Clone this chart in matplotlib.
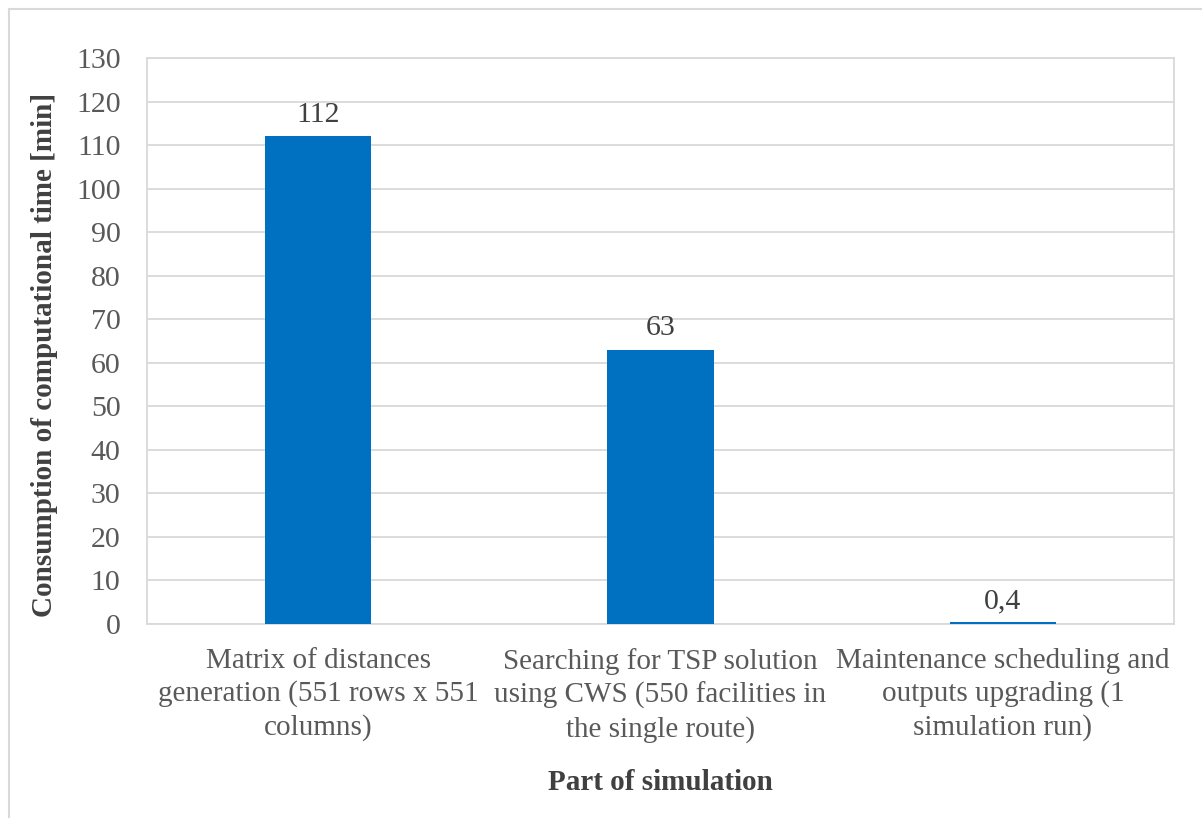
import matplotlib
matplotlib.use("Agg")
import matplotlib.pyplot as plt
from matplotlib.lines import Line2D

categories = [
    "Matrix of distances\ngeneration (551 rows x 551\ncolumns)",
    "Searching for TSP solution\nusing CWS (550 facilities in\nthe single route)",
    "Maintenance scheduling and\noutputs upgrading (1\nsimulation run)",
]
values = [112, 63, 0.4]
value_labels = ["112", "63", "0,4"]
yticks = list(range(0, 131, 10))

plt.rcParams["font.family"] = ["Liberation Serif", "DejaVu Serif"]

W, H = 1202, 818
fig = plt.figure(figsize=(W / 100, H / 100), dpi=100)
fig.patch.set_facecolor("white")

# outer chart frame (top and left edges)
fig.add_artist(Line2D([8.5 / W, 1.0], [1 - 9 / H, 1 - 9 / H], color="#d9d9d9", lw=1.5))
fig.add_artist(Line2D([8.5 / W, 8.5 / W], [0, 1 - 9 / H], color="#d9d9d9", lw=1.5))

left, right, top, bottom = 147, 1174, 58, 624
ax = fig.add_axes([left / W, 1 - bottom / H, (right - left) / W, (bottom - top) / H])

x = list(range(len(categories)))
ax.bar(x, values, width=0.31, color="#0070C0", zorder=3)
ax.set_xlim(-0.5, len(categories) - 0.5)
ax.set_ylim(0, 130)
ax.set_yticks(yticks)
ax.set_yticklabels([str(t) for t in yticks])
ax.yaxis.grid(True, color="#d9d9d9", lw=1.3, zorder=0)
ax.set_axisbelow(True)

for s in ["top", "right", "left", "bottom"]:
    ax.spines[s].set_color("#d9d9d9")
    ax.spines[s].set_linewidth(1.3)

ax.tick_params(axis="y", length=0, pad=19, labelsize=21.5, labelcolor="#595959")
ax.tick_params(axis="x", length=0, pad=17, labelsize=21, labelcolor="#595959")
ax.set_xticks(x)
ax.set_xticklabels(categories, linespacing=1.33)

for xi, v, lab in zip(x, values, value_labels):
    ax.annotate(lab, (xi, v), xytext=(0, 6), textcoords="offset points",
                ha="center", va="bottom", fontsize=21.5, color="#404040")

ax.set_ylabel("Consumption of computational time [min]", fontsize=21,
              fontweight="bold", color="#404040")
ax.yaxis.set_label_coords((58 - left) / (right - left), 0.5 - (355 - (top + bottom) / 2) / (bottom - top))
fig.text((left + right) / 2 / W, 1 - 783 / H, "Part of simulation", ha="center",
         va="center", fontsize=21, fontweight="bold", color="#404040")

fig.savefig("out.png", dpi=100, facecolor="white")
